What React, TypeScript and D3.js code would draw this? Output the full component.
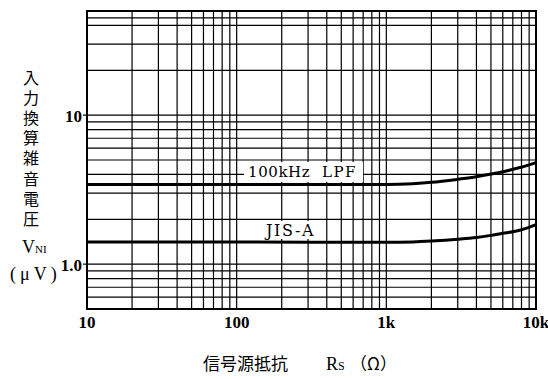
import React from "react";
import * as d3 from "d3";

// Source resistance (Ω)
const RS = [10, 100, 1000, 1500, 2000, 3000, 4000, 5000, 6000, 7000, 8000, 10000];
// Input-referred noise voltage (µV)
const LPF_100K = [3.43, 3.43, 3.43, 3.47, 3.54, 3.71, 3.86, 4.03, 4.17, 4.33, 4.47, 4.8];
const JIS_A = [1.41, 1.41, 1.4, 1.41, 1.43, 1.47, 1.51, 1.56, 1.61, 1.65, 1.7, 1.84];

const X_TICKS = [10, 100, 1000, 10000];
const X_TICK_LABELS = ["10", "100", "1k", "10k"];
const Y_TICKS = [1, 10];
const Y_TICK_LABELS = ["1.0", "10"];
const Y_GRID_EXTRA = [45];

const Y_TITLE = "入力換算雑音電圧";
const X_TITLE = "信号源抵抗";
const SERIES_LABELS = ["100kHz", "LPF", "JIS-A"];

const W = 548;
const H = 379;
const M = { left: 87, right: 536, top: 11, bottom: 309 };

export default function App() {
  const x = d3.scaleLog().domain([10, 10000]).range([M.left, M.right]);
  const y = d3.scaleLog().domain([0.5, 50]).range([M.bottom, M.top]);

  const xGrid = x.ticks();
  const yGrid = [...y.ticks(), ...Y_GRID_EXTRA];

  const line = d3
    .line<number>()
    .x((_, i) => x(RS[i]))
    .y((d) => y(d))
    .curve(d3.curveMonotoneX);

  const serif = "'Liberation Serif', 'Times New Roman', serif";
  const dserif = "'DejaVu Serif', serif";
  const cjk = "'Noto Sans CJK JP', sans-serif";

  return (
    <svg
      width={W}
      height={H}
      style={{ position: "absolute", left: 0, top: 0, background: "#fff" }}
    >
      <rect x={0} y={0} width={W} height={H} fill="#fff" />
      {/* grid */}
      <g stroke="#000" strokeWidth={1.2}>
        {xGrid.map((v, i) => (
          <line key={"gx" + i} x1={x(v)} x2={x(v)} y1={M.top} y2={M.bottom} />
        ))}
        {yGrid.map((v, i) => (
          <line key={"gy" + i} x1={M.left} x2={M.right} y1={y(v)} y2={y(v)} />
        ))}
        {Y_TICKS.map((v, i) => (
          <line key={"ty" + i} x1={M.left - 4} x2={M.left} y1={y(v)} y2={y(v)} />
        ))}
      </g>
      <rect
        x={M.left}
        y={M.top}
        width={M.right - M.left}
        height={M.bottom - M.top}
        fill="none"
        stroke="#000"
        strokeWidth={2}
      />

      {/* series label boxes */}
      <rect x={244} y={162} width={119} height={20} fill="#fff" />
      <rect x={262} y={221} width={60} height={18} fill="#fff" />
      <text fontFamily={dserif} fontSize={15} letterSpacing={0.6} fill="#000">
        <tspan x={248} y={177}>
          {SERIES_LABELS[0]}
        </tspan>
        <tspan x={322} y={177} letterSpacing={1.5}>
          {SERIES_LABELS[1]}
        </tspan>
      </text>
      <text
        x={266}
        y={236}
        fontFamily={dserif}
        fontSize={16}
        letterSpacing={1.6}
        fill="#000"
      >
        {SERIES_LABELS[2]}
      </text>

      {/* curves */}
      <path d={line(LPF_100K) || ""} fill="none" stroke="#000" strokeWidth={3} />
      <path d={line(JIS_A) || ""} fill="none" stroke="#000" strokeWidth={3} />

      {/* x tick labels */}
      {X_TICKS.map((v, i) => (
        <text
          key={"xl" + i}
          x={x(v)}
          y={328}
          textAnchor="middle"
          fontFamily={serif}
          fontWeight="bold"
          fontSize={17}
          fill="#000"
        >
          {X_TICK_LABELS[i]}
        </text>
      ))}
      {/* y tick labels */}
      {Y_TICKS.map((v, i) => (
        <text
          key={"yl" + i}
          x={82}
          y={y(v) + 7}
          textAnchor="end"
          fontFamily={serif}
          fontWeight="bold"
          fontSize={17}
          fill="#000"
        >
          {Y_TICK_LABELS[i]}
        </text>
      ))}

      {/* y title (vertical) */}
      <text
        x={31}
        y={70}
        writingMode="vertical-rl"
        style={{ writingMode: "vertical-rl" }}
        fontFamily={cjk}
        fontSize={16}
        letterSpacing={4.1}
        fill="#000"
      >
        {Y_TITLE}
      </text>
      <text x={22} y={253} fontFamily={serif} fontSize={18} fill="#000">
        V<tspan fontSize={11}>NI</tspan>
      </text>
      <text
        x={10}
        y={280}
        fontFamily={serif}
        fontSize={18}
        letterSpacing={4}
        fill="#000"
      >
        (μV)
      </text>

      {/* x title */}
      <text x={203} y={370} fontFamily={cjk} fontSize={17} fill="#000">
        {X_TITLE}
      </text>
      <text x={326} y={370} fontFamily={serif} fontSize={18} fill="#000">
        R<tspan fontSize={12}>S</tspan>
      </text>
      <text x={350} y={370} fontFamily={cjk} fontSize={17} fill="#000">
        （Ω）
      </text>
    </svg>
  );
}
